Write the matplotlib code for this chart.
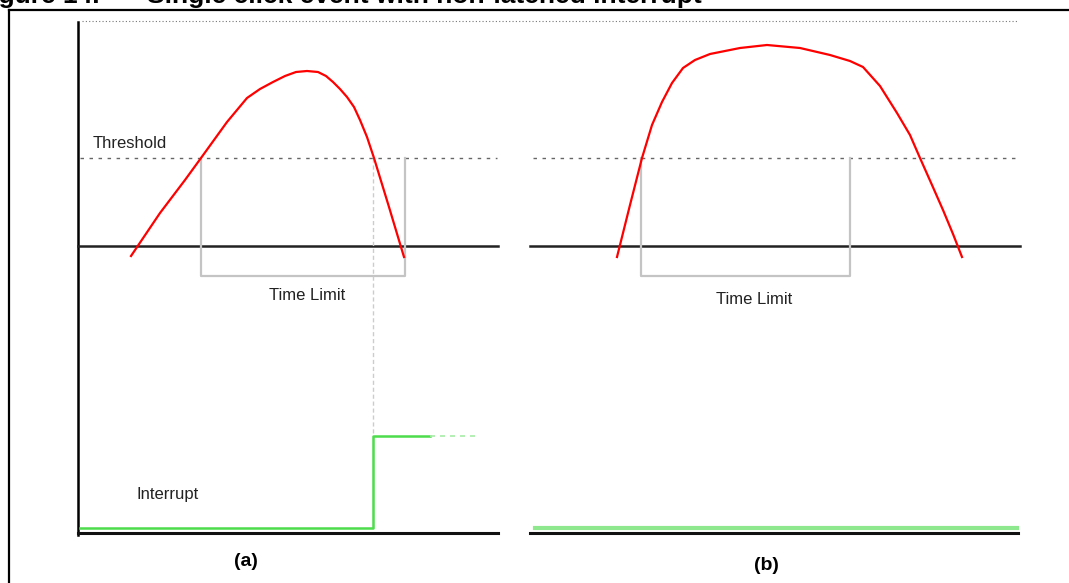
import matplotlib.pyplot as plt

plt.rcParams['font.family'] = ['Liberation Sans', 'DejaVu Sans']

# red signal curves (a) and (b), image-pixel coordinates
curve_a_x = [131, 160, 185, 201, 214, 227, 247, 260, 273, 285, 296, 307,
             318, 326, 333, 340, 347, 354, 360, 367, 374, 389, 404]
curve_a_y = [256, 213, 180, 158, 140, 122, 98, 89, 82, 76, 72, 71,
             72, 76, 82, 89, 97, 107, 120, 137, 158, 207, 257]
curve_b_x = [617, 630, 642, 652, 662, 672, 683, 695, 710, 740, 767, 800,
             830, 850, 863, 880, 897, 910, 920, 932, 943, 953, 962]
curve_b_y = [257, 205, 158, 125, 102, 83, 68, 60, 54, 48, 45, 48,
             55, 61, 67, 86, 113, 135, 158, 185, 210, 234, 257]

# time limit brackets: left, right, bottom
bracket_a = [201, 405, 276]
bracket_b = [641, 850, 276]
threshold_y = 158
baseline_y = 246
bottom_y = 533

# interrupt output (a): low level, step time, high level, end of solid part
irq_x = [80, 373, 373, 430]
irq_y = [528, 528, 436, 436]
irq_dash_x = [430, 480]
irq_b_x = [535, 1017]
irq_b_y = 528

fig = plt.figure(figsize=(10.69, 5.83), dpi=100)
ax = fig.add_axes([0, 0, 1, 1])
ax.set_xlim(0, 1069)
ax.set_ylim(583, 0)
ax.axis('off')

# caption (cut off at the top in the original) and frame
ax.text(100, 3, 'Figure 14.', fontsize=19, fontweight='bold', va='baseline', ha='right')
ax.text(147, 3, 'Single click event with non-latched interrupt',
        fontsize=19, fontweight='bold', va='baseline', ha='left')
ax.plot([9, 1069], [10, 10], color='black', lw=1.6)
ax.plot([9, 9], [10, 583], color='black', lw=1.6)
ax.plot([82, 1018], [21, 21], color='#777777', lw=0.8, ls=(0, (1, 2)))

# axes lines
ax.plot([78, 78], [22, 535], color='black', lw=1.8)
ax.plot([78, 498], [baseline_y, baseline_y], color='#222222', lw=1.8)
ax.plot([530, 1020], [baseline_y, baseline_y], color='#222222', lw=1.8)
ax.plot([78, 498], [bottom_y, bottom_y], color='#111111', lw=2.2)
ax.plot([530, 1018], [bottom_y, bottom_y], color='#111111', lw=2.2)

# threshold
ax.plot([80, 497], [threshold_y, threshold_y], color='#666666', lw=1.0, ls=(0, (2.5, 4)))
ax.plot([533, 1018], [threshold_y, threshold_y], color='#666666', lw=1.0, ls=(0, (2.5, 4)))

# time limit brackets
for left, right, bottom in [bracket_a, bracket_b]:
    ax.plot([left, left, right, right], [threshold_y, bottom, bottom, threshold_y],
            color='#c4c4c4', lw=1.6)

# dashed marker from threshold crossing down to the interrupt step
ax.plot([irq_x[1], irq_x[1]], [threshold_y, irq_y[2]], color='#cccccc', lw=1.0, ls=(0, (3, 2)))

# red curves
ax.plot(curve_a_x, curve_a_y, color='#ff0000', lw=1.6)
ax.plot(curve_b_x, curve_b_y, color='#ff0000', lw=1.6)

# interrupt output
ax.plot(irq_x, irq_y, color='#4cdc4c', lw=1.8)
ax.plot(irq_dash_x, [irq_y[-1], irq_y[-1]], color='#a8eca8', lw=1.2, ls=(0, (3, 3)))
ax.plot(irq_b_x, [irq_b_y, irq_b_y], color='#8ee88e', lw=3)

# labels
ax.text(93, 143, 'Threshold', fontsize=12, color='#222222', va='center', ha='left')
ax.text(307, 295, 'Time Limit', fontsize=12, color='#222222', va='center', ha='center')
ax.text(754, 299, 'Time Limit', fontsize=12, color='#222222', va='center', ha='center')
ax.text(136, 494, 'Interrupt', fontsize=12, color='#222222', va='center', ha='left')
ax.text(246, 561, '(a)', fontsize=14, fontweight='bold', va='center', ha='center')
ax.text(766, 566, '(b)', fontsize=14, fontweight='bold', va='center', ha='center')

fig.savefig('out.png', dpi=100)
